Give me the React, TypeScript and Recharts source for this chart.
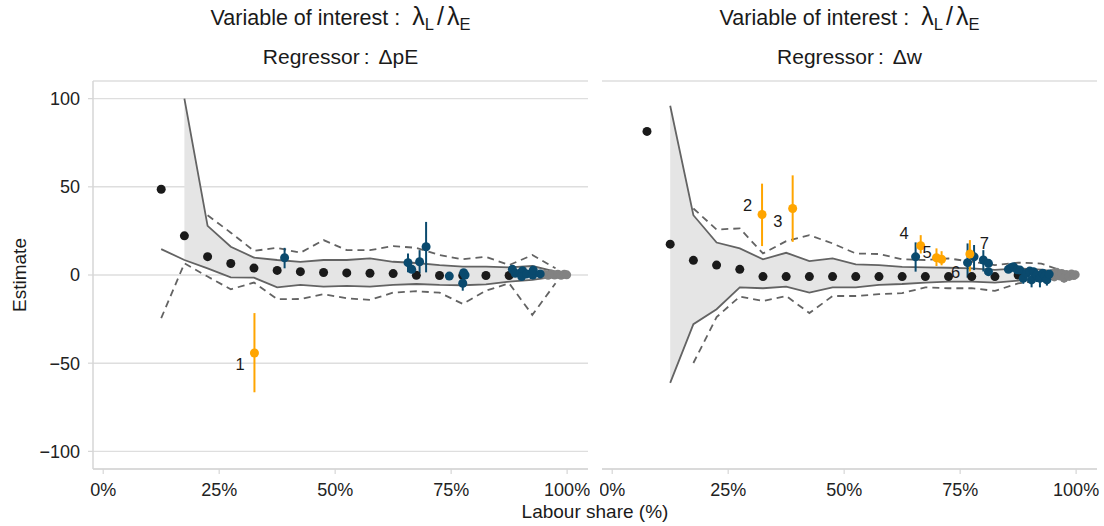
import React from 'react';
import { ComposedChart, XAxis, YAxis, CartesianGrid, Area, Line, Scatter, ErrorBar } from 'recharts';

// ---------- Left panel (Regressor: ΔpE) ----------
const blackLX = [12.5, 17.5, 22.5, 27.5, 32.5, 37.5, 42.5, 47.5, 52.5, 57.5, 62.5, 67.5, 72.5, 77.5, 82.5, 87.5];
const blackLY = [48.6, 22.2, 10.4, 6.5, 3.9, 2.6, 1.9, 1.4, 1.2, 1.0, 0.8, -0.2, -0.3, -0.3, -0.3, -0.3];

const upSolidLX = [17.5, 22.5, 27.5, 32.5, 37.5, 42.5, 47.5, 52.5, 57.5, 62.5, 67.5, 72.5, 77.5, 82.5, 87.5, 92.5, 97.5];
const upSolidLY = [100, 27.9, 16.0, 9.9, 8.5, 7.5, 8.5, 8.5, 9.4, 7.5, 6.8, 5.6, 4.7, 4.7, 4.3, 5.1, 1.9];
const loSolidLX = [12.5, 17.5, 22.5, 27.5, 32.5, 37.5, 42.5, 47.5, 52.5, 57.5, 62.5, 67.5, 72.5, 77.5, 82.5, 87.5, 92.5, 97.5];
const loSolidLY = [14.7, 8.5, 3.8, -1.3, -1.5, -7.0, -5.6, -6.6, -6.2, -6.6, -5.6, -5.1, -5.6, -5.8, -5.3, -3.8, -2.8, -0.9];
const upDashLX = [22.5, 27.5, 32.5, 37.5, 42.5, 47.5, 52.5, 57.5, 62.5, 67.5, 72.5, 77.5, 82.5, 87.5, 92.5, 97.5];
const upDashLY = [33.9, 24.0, 13.7, 15.4, 12.6, 19.8, 14.1, 14.1, 16.4, 15.4, 11.3, 8.9, 10.3, 5.6, 11.3, 3.8];
const loDashLX = [12.5, 17.5, 22.5, 27.5, 32.5, 37.5, 42.5, 47.5, 52.5, 57.5, 62.5, 67.5, 72.5, 77.5, 82.5, 87.5, 92.5, 97.5];
const loDashLY = [-24.5, 6.6, -0.9, -8.1, -4.3, -13.7, -13.6, -10.9, -13.2, -14.1, -10.0, -9.2, -10.0, -16.4, -8.9, -4.7, -22.6, -4.7];

const blueLX = [39.1, 65.7, 66.5, 68.2, 69.6, 74.6, 77.7, 78.0, 77.5, 88.2, 88.8, 89.9, 90.4, 90.2, 91.3, 92.6, 92.7, 94.2];
const blueLY = [9.8, 7.0, 3.2, 7.5, 16.0, -0.6, 1.3, 0.0, -4.7, 3.2, 1.0, 1.0, 2.4, -0.9, 0.6, 0.0, 2.8, 0.6];
const blueLLo = [3.8, 1.5, 1.5, 1.0, 1.5, -1.5, 0.0, -1.0, -8.9, 2.0, 0.0, 0.0, 1.2, -2.0, -0.5, -1.0, 1.8, -0.4];
const blueLHi = [15.4, 12.2, 5.0, 14.1, 30.1, 0.3, 2.6, 1.0, -1.7, 4.5, 2.0, 2.0, 3.6, 0.0, 1.7, 1.0, 3.8, 1.6];

const greyLX = [95.2, 95.9, 96.6, 97.3, 98.0, 98.7, 99.4, 99.9];
const greyLY = [0.3, -0.2, 0.5, 0.0, 0.4, -0.2, 0.4, 0.1];
const greyLLo = [-0.7, -1.2, -0.5, -1.0, -0.6, -1.2, -0.6, -0.9];
const greyLHi = [1.3, 0.8, 1.5, 1.0, 1.4, 0.8, 1.4, 1.1];

const orangeLX = [32.6];
const orangeLY = [-44.2];
const orangeLLo = [-66.5];
const orangeLHi = [-21.6];
const labelLText = ['1'];
const labelLX = [29.5];
const labelLY = [-50.3];

// ---------- Right panel (Regressor: Δw) ----------
const blackRX = [7.5, 12.5, 17.5, 22.5, 27.5, 32.5, 37.5, 42.5, 47.5, 52.5, 57.5, 62.5, 67.5, 72.5, 77.5, 82.5, 87.5];
const blackRY = [81.4, 17.5, 8.3, 5.6, 3.2, -0.9, -0.9, -0.9, -0.9, -0.9, -0.9, -0.9, -0.9, -0.9, -0.9, -0.9, 0.0];

const upSolidRX = [12.5, 17.5, 22.5, 27.5, 32.5, 37.5, 42.5, 47.5, 52.5, 57.5, 62.5, 67.5, 72.5, 77.5, 82.5, 87.5, 92.5, 97.5];
const upSolidRY = [96.0, 33.9, 18.4, 15.1, 8.9, 12.6, 7.9, 9.4, 6.0, 5.6, 4.6, 4.3, 4.1, 3.8, 2.9, 3.8, 3.0, 1.0];
const loSolidRX = [12.5, 17.5, 22.5, 27.5, 32.5, 37.5, 42.5, 47.5, 52.5, 57.5, 62.5, 67.5, 72.5, 77.5, 82.5, 87.5, 92.5, 97.5];
const loSolidRY = [-61.2, -27.9, -19.4, -7.0, -7.5, -6.6, -10.0, -7.0, -7.0, -5.6, -5.1, -4.3, -3.8, -3.8, -4.3, -3.2, -2.0, -1.0];
const upDashRX = [17.5, 22.5, 27.5, 32.5, 37.5, 42.5, 47.5, 52.5, 57.5, 62.5, 67.5, 72.5, 77.5, 82.5, 87.5, 92.5, 97.5];
const upDashRY = [37.7, 25.8, 26.4, 12.2, 19.2, 22.6, 17.9, 12.2, 11.9, 8.9, 8.5, 9.4, 7.5, 5.6, 7.0, 6.5, 1.9];
const loDashRX = [17.5, 22.5, 27.5, 32.5, 37.5, 42.5, 47.5, 52.5, 57.5, 62.5, 67.5, 72.5, 77.5, 82.5, 87.5, 92.5, 97.5];
const loDashRY = [-49.9, -23.9, -12.2, -14.7, -11.9, -21.6, -11.9, -11.9, -10.9, -10.3, -7.0, -7.5, -7.5, -9.0, -4.7, -3.0, -1.5];

const blueRX = [65.4, 76.6, 78.0, 80.0, 81.1, 81.1, 85.4, 86.0, 86.5, 87.3, 87.9, 88.6, 89.3, 90.0, 90.4, 90.8, 91.5, 92.2, 92.8, 93.3, 93.7, 94.2];
const blueRY = [10.3, 7.0, 10.3, 8.5, 6.6, 1.9, 3.2, 4.2, 4.7, 3.0, 2.8, -1.9, 1.0, 2.2, -2.8, 1.9, 0.0, -1.9, 1.0, -0.5, -2.8, 0.5];
const blueRLo = [1.9, -1.5, 2.8, 2.0, 4.5, 0.5, 2.0, 3.0, 3.5, 1.5, 1.0, -5.0, -1.0, 0.5, -7.0, 0.0, -4.0, -7.0, -1.0, -3.0, -6.0, -1.0];
const blueRHi = [18.5, 17.9, 17.0, 14.1, 8.5, 3.3, 4.5, 5.5, 6.0, 4.5, 4.5, 1.0, 3.0, 4.0, 1.0, 3.5, 3.0, 2.0, 3.0, 2.0, 0.0, 2.0];

const greyRX = [94.8, 95.3, 95.8, 96.4, 96.9, 97.4, 97.9, 98.5, 99.0, 99.5, 99.8];
const greyRY = [0.8, -1.0, 1.5, -0.5, 0.9, -1.8, 0.3, -0.8, 0.5, -0.3, 0.2];
const greyRLo = [-1.5, -3.5, -0.5, -2.5, -1.0, -4.2, -1.5, -2.8, -1.0, -2.0, -1.0];
const greyRHi = [2.5, 1.0, 3.3, 1.5, 2.5, 0.5, 2.0, 1.0, 2.0, 1.5, 1.3];

const orangeRX = [32.3, 38.9, 66.5, 69.9, 71.0, 77.1];
const orangeRY = [34.3, 37.7, 16.6, 9.8, 8.9, 11.9];
const orangeRLo = [16.4, 18.8, 12.2, 5.1, 5.5, 1.9];
const orangeRHi = [51.8, 56.5, 22.6, 15.1, 13.5, 19.8];
const labelRText = ['2', '3', '4', '5', '6', '7'];
const labelRX = [29.2, 35.7, 62.9, 67.9, 74.0, 80.2];
const labelRY = [39.9, 30.7, 23.6, 13.2, 1.9, 17.9];

// ---------- Shared ----------
const xTicks = [0, 25, 50, 75, 100];
const yTicks = [-100, -50, 0, 50, 100];
const xDomain = [-2.2, 104.5];
const yDomain = [-110, 110];

const titleTop = 'Variable of interest';
const regressorLeft = 'ΔpE';
const regressorRight = 'Δw';
const xTitle = 'Labour share (%)';
const yTitle = 'Estimate';

// ---------- Builders ----------
const pts = (xs: number[], ys: number[]) => xs.map((x, i) => ({ x, y: ys[i] }));
const ptsErr = (xs: number[], ys: number[], lo: number[], hi: number[]) =>
  xs.map((x, i) => ({ x, y: ys[i], err: [ys[i] - lo[i], hi[i] - ys[i]] }));
const ribbon = (ux: number[], uy: number[], lx: number[], ly: number[]) =>
  ux.map((x, i) => {
    const j = lx.indexOf(x);
    return { x, y: uy[i], range: [ly[j], uy[i]] };
  });
const labels = (xs: number[], ys: number[], t: string[]) => xs.map((x, i) => ({ x, y: ys[i], label: t[i] }));

const FONT = '"Liberation Sans", Arial, Helvetica, sans-serif';
const GRID = '#DEDEDE';
const LINE = '#636363';
const BLACK = '#1A1A1A';
const BLUE = '#0A4A6E';
const ORANGE = '#FFA500';
const GREY = '#828282';
const R = 4.5;

const dot = (fill: string) => (p: any) =>
  p.cx == null ? <g /> : <circle cx={p.cx} cy={p.cy} r={R} fill={fill} />;

const labelShape = (p: any) => {
  const t = p.payload?.label ?? p.label;
  return (
    <text x={p.cx} y={p.cy} textAnchor="middle" dominantBaseline="central" fontSize={16.5} fill={BLACK} fontFamily={FONT}>
      {t}
    </text>
  );
};

const fmtY = (v: number) => (v < 0 ? '\u2212' + Math.abs(v) : String(v));
const fmtX = (v: number) => v + '%';

type PanelProps = {
  showY: boolean;
  black: any[];
  upSolid: any[];
  loSolid: any[];
  upDash: any[];
  loDash: any[];
  rib: any[];
  blue: any[];
  grey: any[];
  orange: any[];
  lab: any[];
  width: number;
  margin: any;
};

function Panel(props: PanelProps) {
  const { showY } = props;
  return (
    <ComposedChart width={props.width} height={526} margin={props.margin}>
      <CartesianGrid horizontal vertical={false} stroke={GRID} strokeWidth={1.4} />
      <XAxis
        type="number"
        dataKey="x"
        domain={xDomain}
        allowDataOverflow
        ticks={xTicks}
        tickFormatter={fmtX}
        height={30}
        tickSize={5}
        tickMargin={9}
        axisLine={{ stroke: '#D6D6D6', strokeWidth: 1.5 }}
        tickLine={{ stroke: '#D6D6D6', strokeWidth: 1.2 }}
        tick={{ fill: '#222', fontSize: 18, fontFamily: FONT }}
        interval={0}
      />
      <YAxis
        type="number"
        dataKey="y"
        domain={yDomain}
        allowDataOverflow
        ticks={yTicks}
        tickFormatter={fmtY}
        width={showY ? 93 : 0}
        tickSize={showY ? 5 : 0}
        tickMargin={showY ? 8 : 0}
        axisLine={showY ? { stroke: '#D6D6D6', strokeWidth: 1.5 } : false}
        tickLine={showY ? { stroke: '#D6D6D6', strokeWidth: 1.2 } : false}
        tick={showY ? { fill: '#222', fontSize: 18, fontFamily: FONT } : false}
        interval={0}
      />
      <Area data={props.rib} dataKey="range" type="linear" stroke="none" fill="#E5E5E5" fillOpacity={1} dot={false} activeDot={false} isAnimationActive={false} />
      <Line data={props.upSolid} dataKey="y" type="linear" stroke={LINE} strokeWidth={1.8} dot={false} activeDot={false} isAnimationActive={false} />
      <Line data={props.loSolid} dataKey="y" type="linear" stroke={LINE} strokeWidth={1.8} dot={false} activeDot={false} isAnimationActive={false} />
      <Line data={props.upDash} dataKey="y" type="linear" stroke={LINE} strokeWidth={1.8} strokeDasharray="7 5" dot={false} activeDot={false} isAnimationActive={false} />
      <Line data={props.loDash} dataKey="y" type="linear" stroke={LINE} strokeWidth={1.8} strokeDasharray="7 5" dot={false} activeDot={false} isAnimationActive={false} />
      <Scatter data={props.black} dataKey="y" shape={dot(BLACK)} isAnimationActive={false} />
      <Scatter data={props.grey} dataKey="y" shape={dot(GREY)} isAnimationActive={false}>
        <ErrorBar dataKey="err" direction="y" width={0} stroke={GREY} strokeWidth={2} />
      </Scatter>
      <Scatter data={props.blue} dataKey="y" shape={dot(BLUE)} isAnimationActive={false}>
        <ErrorBar dataKey="err" direction="y" width={0} stroke={BLUE} strokeWidth={2} />
      </Scatter>
      <Scatter data={props.orange} dataKey="y" shape={dot(ORANGE)} isAnimationActive={false}>
        <ErrorBar dataKey="err" direction="y" width={0} stroke={ORANGE} strokeWidth={2} />
      </Scatter>
      <Scatter data={props.lab} dataKey="y" shape={labelShape} isAnimationActive={false} />
    </ComposedChart>
  );
}

function Title({ cx, reg }: { cx: number; reg: string }) {
  return (
    <g fontFamily={FONT} fill={BLACK}>
      <text x={cx} y={25} textAnchor="middle" fontSize={21.5}>
        {titleTop}
        <tspan dx={6}>:</tspan>
        <tspan dx={12} fontSize={25}>λ</tspan>
        <tspan dy={5} fontSize={16.5}>L</tspan>
        <tspan dy={-5} dx={3} fontSize={25}>/</tspan>
        <tspan dx={3} fontSize={25}>λ</tspan>
        <tspan dy={5} fontSize={16.5}>E</tspan>
      </text>
      <text x={cx} y={64} textAnchor="middle" fontSize={21}>
        Regressor
        <tspan dx={4}>:</tspan>
        <tspan dx={9}>{reg}</tspan>
      </text>
    </g>
  );
}

export default function App() {
  const left = {
    black: pts(blackLX, blackLY),
    upSolid: pts(upSolidLX, upSolidLY),
    loSolid: pts(loSolidLX, loSolidLY),
    upDash: pts(upDashLX, upDashLY),
    loDash: pts(loDashLX, loDashLY),
    rib: ribbon(upSolidLX, upSolidLY, loSolidLX, loSolidLY),
    blue: ptsErr(blueLX, blueLY, blueLLo, blueLHi),
    grey: ptsErr(greyLX, greyLY, greyLLo, greyLHi),
    orange: ptsErr(orangeLX, orangeLY, orangeLLo, orangeLHi),
    lab: labels(labelLX, labelLY, labelLText),
  };
  const right = {
    black: pts(blackRX, blackRY),
    upSolid: pts(upSolidRX, upSolidRY),
    loSolid: pts(loSolidRX, loSolidRY),
    upDash: pts(upDashRX, upDashRY),
    loDash: pts(loDashRX, loDashRY),
    rib: ribbon(upSolidRX, upSolidRY, loSolidRX, loSolidRY),
    blue: ptsErr(blueRX, blueRY, blueRLo, blueRHi),
    grey: ptsErr(greyRX, greyRY, greyRLo, greyRHi),
    orange: ptsErr(orangeRX, orangeRY, orangeRLo, orangeRHi),
    lab: labels(labelRX, labelRY, labelRText),
  };
  return (
    <div style={{ position: 'absolute', left: 0, top: 0, width: 1104, height: 526, background: '#fff', fontFamily: FONT, overflow: 'hidden' }}>
      <div style={{ position: 'absolute', left: 0, top: 0 }}>
        <Panel showY width={590} margin={{ top: 81, right: 2, bottom: 27, left: 0 }} {...left} />
      </div>
      <div style={{ position: 'absolute', left: 600, top: 0 }}>
        <Panel showY={false} width={504} margin={{ top: 81, right: 7, bottom: 27, left: 2 }} {...right} />
      </div>
      <svg width={1104} height={526} style={{ position: 'absolute', left: 0, top: 0, pointerEvents: 'none' }}>
        <Title cx={340.5} reg={regressorLeft} />
        <Title cx={849.5} reg={regressorRight} />
        <text x={595} y={518} textAnchor="middle" fontSize={19} fontFamily={FONT} fill={BLACK}>{xTitle}</text>
        <text x={0} y={0} transform="translate(19,275) rotate(-90)" textAnchor="middle" dominantBaseline="central" fontSize={19} fontFamily={FONT} fill={BLACK}>{yTitle}</text>
      </svg>
    </div>
  );
}
